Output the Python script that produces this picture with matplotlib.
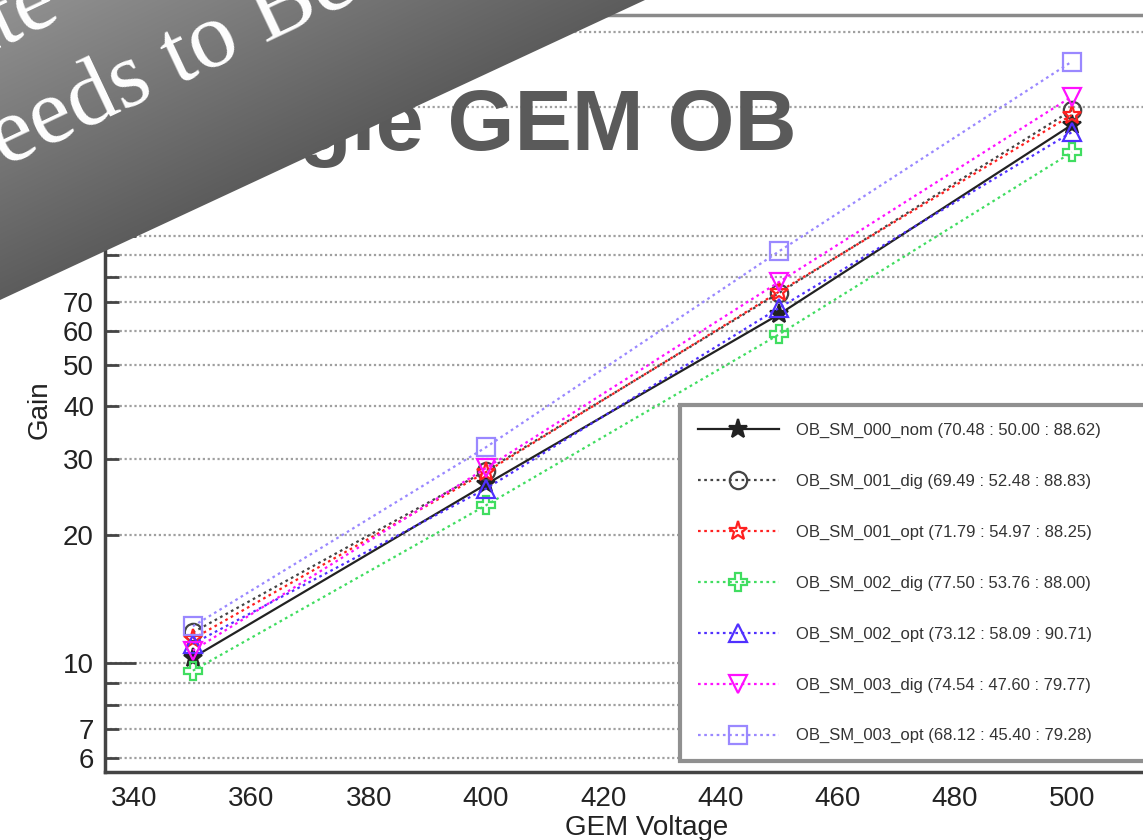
import numpy as np
import matplotlib
matplotlib.use("Agg")
import matplotlib.pyplot as plt
from matplotlib.patches import Polygon
from matplotlib.colors import LinearSegmentedColormap

plt.rcParams['font.family'] = ['Liberation Sans', 'DejaVu Sans']

# measured gain vs. GEM voltage, one list per module
voltage = [350, 400, 450, 500]
gain_000_nom = [10.3, 26.2, 65.5, 182]
gain_001_dig = [11.8, 28.2, 73.5, 197]
gain_001_opt = [11.4, 28.0, 74.0, 192]
gain_002_dig = [9.6, 23.4, 58.8, 157]
gain_002_opt = [11.1, 25.6, 67.8, 175]
gain_003_dig = [10.7, 28.6, 78.0, 212]
gain_003_opt = [12.2, 32.0, 92.0, 256]

labels = [
    "OB_SM_000_nom (70.48 : 50.00 : 88.62)",
    "OB_SM_001_dig (69.49 : 52.48 : 88.83)",
    "OB_SM_001_opt (71.79 : 54.97 : 88.25)",
    "OB_SM_002_dig (77.50 : 53.76 : 88.00)",
    "OB_SM_002_opt (73.12 : 58.09 : 90.71)",
    "OB_SM_003_dig (74.54 : 47.60 : 79.77)",
    "OB_SM_003_opt (68.12 : 45.40 : 79.28)",
]
series = [gain_000_nom, gain_001_dig, gain_001_opt, gain_002_dig,
          gain_002_opt, gain_003_dig, gain_003_opt]

colors = ['#222222', '#444444', '#ff2020', '#40dd60', '#5030ff', '#ff10ff', '#9a88ff']
markers = ['*', 'o', '*', 'P', '^', 'v', 's']
dotted = (0, (1.2, 1.6))
styles = ['-', dotted, dotted, dotted, dotted, dotted, dotted]

W, H = 1143, 840
fig = plt.figure(figsize=(W / 100, H / 100), dpi=100)

# axes run off the right edge of the canvas
ax = fig.add_axes([105 / W, 1 - 772 / H, 185 * 5.86 / W, 757 / H])
ax.set_yscale('log')
ax.set_xlim(335, 520)
ax.set_ylim(5.56, 329)
ax.set_axisbelow(True)

for i, (vals, lab) in enumerate(zip(series, labels)):
    filled = (i == 0)
    ax.plot(voltage, vals, linestyle=styles[i], color=colors[i], lw=1.6,
            marker=markers[i], markersize=14 if markers[i] == '*' else 12.5,
            markerfacecolor=colors[i] if filled else 'none',
            markeredgecolor=colors[i], markeredgewidth=1.6, label=lab,
            zorder=3 + i)

ax.set_xticks(range(340, 501, 20))
ax.set_yticks([10, 100], labels=['10', '100'])
minor = [6, 7, 8, 9, 20, 30, 40, 50, 60, 70, 80, 90, 200, 300]
minor_lab = ['6', '7', '', '', '20', '30', '40', '50', '60', '70', '', '', '200', '300']
ax.set_yticks(minor, labels=minor_lab, minor=True)

ax.tick_params(axis='y', which='both', direction='in', width=2, color='#444444',
               labelsize=20, labelcolor='#222222', pad=8)
ax.tick_params(axis='y', which='major', length=22)
ax.tick_params(axis='y', which='minor', length=10)
ax.tick_params(axis='x', length=0, labelsize=20, labelcolor='#222222', pad=10)

ax.yaxis.grid(True, which='both', linestyle=(0, (1, 1.2)), color='#a0a0a0', lw=1.6)
ax.xaxis.grid(False)

for side in ['left', 'bottom']:
    ax.spines[side].set_color('#444444')
    ax.spines[side].set_linewidth(2.5)
ax.spines['top'].set_color('#8a8a8a')
ax.spines['top'].set_linewidth(2.5)

ax.set_xlabel('GEM Voltage', fontsize=20, color='#222222', labelpad=2)
fig.text(40 / W, 1 - 410 / H, 'Gain', rotation=90, fontsize=20, color='#222222',
         ha='center', va='center')

leg = ax.legend(loc='upper left', bbox_to_anchor=(680 / W, 1 - 763 / H, 0.5, 358 / H),
                bbox_transform=fig.transFigure, mode='expand', borderaxespad=0,
                fontsize=12, handlelength=4.9, handletextpad=1.0, labelspacing=2.15,
                borderpad=1.05, fancybox=False, framealpha=1, edgecolor='#909090',
                labelcolor='#333333')
leg.get_frame().set_linewidth(3)
leg.set_zorder(20)

fig.text(797 / W, 1 - 150 / H, 'Single GEM OB', ha='right', va='baseline',
         fontsize=62, fontweight='bold', color='#5a5a5a', zorder=5)

# grey corner sticker over the top left
bax = fig.add_axes([0, 0, 1, 1], zorder=10)
bax.set_axis_off()
bax.set_xlim(0, W)
bax.set_ylim(H, 0)
tri = Polygon([(0, 0), (645, 0), (0, 300)], closed=True, facecolor='none',
              edgecolor='none', transform=bax.transData)
bax.add_patch(tri)
yy, xx = np.mgrid[0:H, 0:W]
shade = np.clip(xx / 645 + yy / 300, 0, 1)
cmap = LinearSegmentedColormap.from_list('sticker', ['#929292', '#5c5c5c'])
im = bax.imshow(shade, cmap=cmap, extent=(0, W, H, 0), aspect='auto', zorder=1)
im.set_clip_path(tri)

ang = 25.3
serif = ['Liberation Serif', 'DejaVu Serif']
t1 = bax.text(62, 18, 'Out of Date', rotation=ang, rotation_mode='anchor',
              ha='right', va='baseline', fontsize=66, family=serif, color='white',
              zorder=2)
t2 = bax.text(-58, 196, 'Needs to Be Updated', rotation=ang, rotation_mode='anchor',
              ha='left', va='baseline', fontsize=68, family=serif, color='white',
              zorder=2)
t1.set_clip_path(tri)
t2.set_clip_path(tri)

fig.savefig('out.png', dpi=100)
